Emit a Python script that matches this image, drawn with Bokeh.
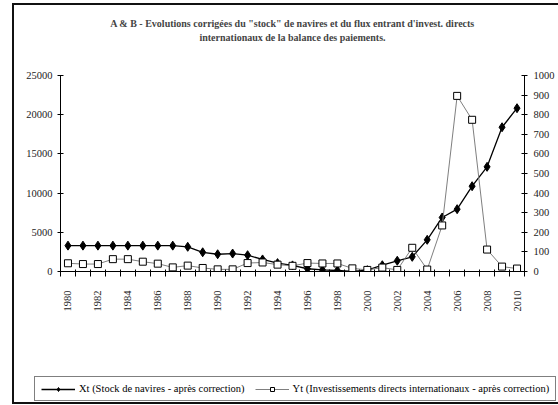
import math
from bokeh.plotting import figure
from bokeh.layouts import column
from bokeh.models import Range1d, LinearAxis, FixedTicker, Legend, LegendItem, Title
from bokeh.embed import file_html
from bokeh.resources import INLINE

years = list(range(1980, 2011))
xt_stock = [3300, 3300, 3300, 3300, 3300, 3300, 3300, 3300, 3150, 2450,
            2200, 2290, 2080, 1540, 1070, 780, 350, 220, 130, 0,
            170, 800, 1370, 1870, 4040, 6890, 7950, 10880, 13350, 18400,
            20830]
yt_ide = [42, 38, 38, 63, 63, 50, 40, 21, 30, 18,
          11, 11, 43, 46, 35, 29, 43, 41, 41, 16,
          8, 20, 8, 121, 10, 235, 896, 774, 112, 25,
          15]
year_ticks = list(range(1980, 2011, 2))
left_ticks = [0, 5000, 10000, 15000, 20000, 25000]
right_ticks = list(range(0, 1001, 100))

title_1 = 'A & B - Evolutions corrigées du "stock" de navires et du flux entrant d\'invest. directs'
title_2 = "internationaux de la balance des paiements."
label_x = "Xt (Stock de navires - après correction)"
label_y = "Yt (Investissements directs internationaux - après correction)"

FONT = "Liberation Serif"

p = figure(width=544, height=370, output_backend="svg", toolbar_location=None,
           x_range=Range1d(1979.5, 2010.5), y_range=Range1d(0, 25000),
           min_border_left=46, min_border_right=34, min_border_top=70,
           min_border_bottom=104, title=None)
p.frame_align = False
p.outline_line_color = None
p.xgrid.visible = False
p.ygrid.visible = False
p.background_fill_color = "white"
p.border_fill_color = "white"

p.extra_y_ranges = {"y2": Range1d(0, 1000)}
raxis = LinearAxis(y_range_name="y2", ticker=FixedTicker(ticks=right_ticks))
p.add_layout(raxis, "right")

# x axis
xa = p.xaxis[0]
xa.ticker = FixedTicker(ticks=year_ticks, minor_ticks=[y - 0.5 for y in years] + [years[-1] + 0.5])
xa.major_tick_out = 0
xa.major_tick_in = 0
xa.minor_tick_out = 5
xa.minor_tick_in = 2
xa.minor_tick_line_color = "black"
xa.major_label_orientation = math.pi / 2
xa.major_label_standoff = 14

ya = p.yaxis[0]
ya.ticker = FixedTicker(ticks=left_ticks)
ya.major_label_standoff = 5

for ax in [xa, ya, raxis]:
    ax.axis_line_color = "black"
    ax.major_tick_line_color = "black"
    ax.major_label_text_font = FONT
    ax.major_label_text_font_size = "10.5px"
    ax.major_label_text_color = "#222"
for ax in [ya, raxis]:
    ax.major_tick_in = 3
    ax.major_tick_out = 3
    ax.minor_tick_line_color = None
raxis.major_label_standoff = 6

l1 = p.line(years, xt_stock, line_color="black", line_width=1.3)
s1 = p.scatter(years, xt_stock, marker="diamond", size=9, fill_color="black", line_color="black")
l2 = p.line(years, yt_ide, line_color="#7f7f7f", line_width=1, y_range_name="y2")
s2 = p.scatter(years, yt_ide, marker="square", size=7, fill_color="white", line_color="black",
               line_width=1, y_range_name="y2")

spacer = Title(text=" ", standoff=28, text_font_size="2px")
t2 = Title(text=title_2, align="center", offset=-13, standoff=2,
           text_font=FONT, text_font_size="10px", text_font_style="bold")
t1 = Title(text=title_1, align="center", offset=-13, standoff=0,
           text_font=FONT, text_font_size="10px", text_font_style="bold")
p.add_layout(spacer, "above")
p.add_layout(t2, "above")
p.add_layout(t1, "above")

# legend strip (separate canvas under the chart; series drawn out of its view,
# so only their legend glyphs show)
q = figure(width=544, height=27, output_backend="svg", toolbar_location=None,
           x_axis_type=None, y_axis_type=None, min_border=0, title=None,
           x_range=Range1d(0, 1), y_range=Range1d(-2, -1))
q.frame_align = False
q.outline_line_color = None
q.xgrid.visible = False
q.ygrid.visible = False
ql1 = q.line(years, xt_stock, line_color="black", line_width=1.3)
qs1 = q.scatter(years, xt_stock, marker="diamond", size=9, fill_color="black", line_color="black")
ql2 = q.line(years, yt_ide, line_color="#7f7f7f", line_width=1)
qs2 = q.scatter(years, yt_ide, marker="square", size=7, fill_color="white", line_color="black", line_width=1)

legend = Legend(items=[LegendItem(label=label_x, renderers=[ql1, qs1]),
                       LegendItem(label=label_y, renderers=[ql2, qs2])],
                orientation="horizontal", location=(20, 1), margin=0,
                padding=6, spacing=10, glyph_width=34, glyph_height=10,
                label_standoff=4, label_height=10,
                border_line_color="black", border_line_width=1,
                background_fill_alpha=1.0)
legend.label_text_font = FONT
legend.label_text_font_size = "10.5px"
legend.label_text_color = "black"
q.add_layout(legend)

layout = column(p, q, spacing=0)
layout.styles = {"border-left": "2px solid #111", "border-top": "2px solid #111",
                 "border-bottom": "2px solid #111", "margin-left": "12px", "margin-top": "3px"}

open("out.html", "w").write(file_html(layout, INLINE))
